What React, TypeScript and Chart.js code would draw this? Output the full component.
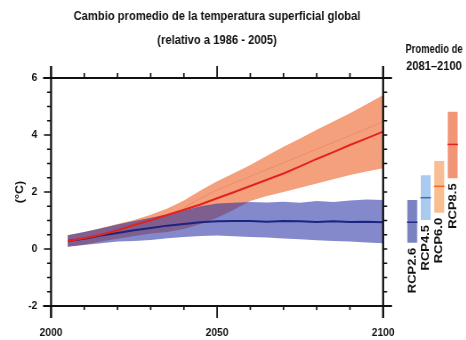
import React, { useEffect, useRef } from "react";
import { Chart, registerables } from "chart.js";

Chart.register(...registerables);

// ---- data ----
const years = [2005, 2010, 2015, 2020, 2025, 2030, 2035, 2040, 2045, 2050, 2055, 2060, 2065, 2070, 2075, 2080, 2085, 2090, 2095, 2100];
const rcp85Mean = [0.28, 0.38, 0.5, 0.66, 0.84, 1.01, 1.19, 1.38, 1.56, 1.78, 1.99, 2.21, 2.43, 2.65, 2.9, 3.16, 3.4, 3.65, 3.88, 4.12];
const rcp85High = [0.48, 0.6, 0.74, 0.88, 1.02, 1.2, 1.42, 1.7, 2.05, 2.38, 2.66, 2.95, 3.27, 3.59, 3.88, 4.18, 4.47, 4.76, 5.08, 5.4];
const rcp85Low = [0.08, 0.16, 0.26, 0.36, 0.46, 0.54, 0.6, 0.7, 0.88, 1.1, 1.38, 1.68, 1.86, 2.0, 2.15, 2.3, 2.45, 2.6, 2.72, 2.83];
const rcp85Faint = [null, null, null, null, null, null, null, 1.45, 1.78, 2.07, 2.31, 2.55, 2.79, 3.03, 3.27, 3.5, 3.74, 3.98, 4.22, 4.47];
const rcp26Mean = [0.28, 0.36, 0.47, 0.56, 0.66, 0.74, 0.82, 0.88, 0.94, 0.97, 0.98, 0.98, 0.96, 0.98, 0.97, 0.95, 0.97, 0.95, 0.96, 0.94];
const rcp26High = [0.48, 0.6, 0.72, 0.86, 0.98, 1.1, 1.22, 1.35, 1.5, 1.6, 1.62, 1.65, 1.63, 1.66, 1.62, 1.68, 1.65, 1.7, 1.74, 1.72];
const rcp26Low = [0.08, 0.14, 0.2, 0.26, 0.28, 0.32, 0.38, 0.42, 0.46, 0.47, 0.45, 0.42, 0.4, 0.37, 0.34, 0.31, 0.28, 0.26, 0.23, 0.2];

const scenarios = ["RCP2.6", "RCP4.5", "RCP6.0", "RCP8.5"];
const scenarioLow = [0.22, 1.02, 1.27, 2.48];
const scenarioHigh = [1.72, 2.59, 3.09, 4.82];
const scenarioMedian = [0.94, 1.8, 2.2, 3.67];
const scenarioColors = ["#7b82c2", "#abcaf0", "#f9bd92", "#f29476"];
const medianColors = ["#1d2a82", "#3a6cb4", "#f06a1a", "#e3241b"];

const titleLines = ["Cambio promedio de la temperatura superficial global", "(relativo a 1986 - 2005)"];
const sideTitle = ["Promedio de", "2081\u20132100"];
const yTitle = "(°C)";

const SANS = "'Liberation Sans', Arial, sans-serif";
// horizontal condensing of the whole figure (as in the original artwork)
const K = 0.889;
const MAIN_W = 488;
const SIDE_W = 86;

const pts = (vals: (number | null)[]) => years.map((x, i) => ({ x, y: vals[i] }));

const framePlugin = {
  id: "frame",
  afterDraw(chart: any) {
    const { ctx, chartArea } = chart;
    const { left: L, right: R, top: T, bottom: B } = chartArea;
    const xs = chart.scales.x;
    const ys = chart.scales.y;
    ctx.save();
    ctx.strokeStyle = "#111";
    ctx.lineWidth = 2 / K;
    ctx.beginPath();
    ctx.moveTo(L, T - 12); ctx.lineTo(L, B + 12);
    ctx.moveTo(R, T - 12); ctx.lineTo(R, B + 12);
    ctx.stroke();
    ctx.lineWidth = 2;
    ctx.beginPath();
    ctx.moveTo(L - 9, T); ctx.lineTo(R + 10, T);
    ctx.moveTo(L - 9, B); ctx.lineTo(R + 10, B);
    ctx.stroke();
    ctx.lineWidth = 1.5;
    ctx.beginPath();
    ys.ticks.forEach((t: any) => {
      const p = ys.getPixelForValue(t.value);
      const len = t.value % 2 === 0 ? 8 : 4.5;
      ctx.moveTo(L - len, p); ctx.lineTo(L, p);
      ctx.moveTo(R, p); ctx.lineTo(R + 4.5, p);
    });
    ctx.stroke();
    ctx.lineWidth = 1.5 / K;
    ctx.beginPath();
    xs.ticks.forEach((t: any) => {
      const p = xs.getPixelForValue(t.value);
      const major = t.value % 50 === 0;
      ctx.moveTo(p, T - (major ? 12 : 5)); ctx.lineTo(p, T);
      ctx.moveTo(p, B); ctx.lineTo(p, B + (major ? 12 : 4));
    });
    ctx.stroke();
    ctx.restore();
  },
};

const barLabelPlugin = {
  id: "barLabels",
  afterDatasetsDraw(chart: any) {
    const { ctx } = chart;
    const meta = chart.getDatasetMeta(1);
    ctx.save();
    ctx.fillStyle = "#111";
    ctx.font = `bold 13px ${SANS}`;
    ctx.textAlign = "right";
    ctx.textBaseline = "middle";
    meta.data.forEach((el: any, i: number) => {
      const yb = Math.max(el.y, el.base) + 5;
      ctx.save();
      ctx.translate(el.x, yb);
      ctx.rotate(-Math.PI / 2);
      ctx.fillText(scenarios[i], 0, 0);
      ctx.restore();
    });
    ctx.restore();
  },
};

export default function App() {
  const mainRef = useRef<HTMLCanvasElement>(null);
  const sideRef = useRef<HTMLCanvasElement>(null);

  useEffect(() => {
    const main = new Chart(mainRef.current!, {
      type: "line",
      data: {
        datasets: [
          { data: pts(rcp85Mean), borderColor: "#e3231b", borderWidth: 2, pointRadius: 0, fill: false },
          { data: pts(rcp26Mean), borderColor: "#1b2580", borderWidth: 2, pointRadius: 0, fill: false },
          { data: pts(rcp85Faint), borderColor: "rgba(222,120,95,0.45)", borderWidth: 1, pointRadius: 0, fill: false },
          { data: pts(rcp26High), borderColor: "rgba(0,0,0,0)", borderWidth: 0, pointRadius: 0, fill: "+1", backgroundColor: "rgba(30,40,160,0.55)" },
          { data: pts(rcp26Low), borderColor: "rgba(0,0,0,0)", borderWidth: 0, pointRadius: 0, fill: false },
          { data: pts(rcp85High), borderColor: "rgba(0,0,0,0)", borderWidth: 0, pointRadius: 0, fill: "+1", backgroundColor: "#f5a07c" },
          { data: pts(rcp85Low), borderColor: "rgba(0,0,0,0)", borderWidth: 0, pointRadius: 0, fill: false },
        ],
      },
      options: {
        responsive: false,
        animation: false,
        devicePixelRatio: 1,
        layout: { padding: 0 },
        plugins: {
          legend: { display: false },
          tooltip: { enabled: false },
          title: {
            display: true,
            text: titleLines,
            color: "#111",
            font: { family: SANS, size: 12.6, weight: "bold", lineHeight: 24 / 12.6 },
            padding: { top: 4.7, bottom: 0.3 },
          },
        },
        scales: {
          x: {
            type: "linear",
            position: "bottom",
            min: 2000,
            max: 2100,
            grid: { display: false, drawTicks: false },
            border: { display: false },
            ticks: {
              stepSize: 10,
              autoSkip: false,
              maxRotation: 0,
              padding: 20,
              color: "#111",
              font: { family: SANS, size: 11.5, weight: "bold" },
              callback: (v: any) => (v % 50 === 0 ? String(v) : ""),
            },
            afterFit: (s: any) => { s.height = 34; },
          },
          x2: {
            type: "linear",
            position: "top",
            min: 2000,
            max: 2100,
            grid: { display: false, drawTicks: false },
            border: { display: false },
            ticks: { display: false },
            afterFit: (s: any) => { s.height = 25; },
          },
          y: {
            position: "left",
            min: -2,
            max: 6,
            grid: { display: false, drawTicks: false },
            border: { display: false },
            ticks: {
              stepSize: 0.5,
              autoSkip: false,
              padding: 15.5,
              color: "#111",
              font: { family: SANS, size: 11.5, weight: "bold" },
              callback: (v: any) => (v % 2 === 0 ? String(v) : ""),
            },
            title: {
              display: true,
              text: yTitle,
              color: "#111",
              font: { family: SANS, size: 12.5, weight: "bold" },
              padding: { top: 15, bottom: 0 },
            },
            afterFit: (s: any) => { s.width = 57.4; },
          },
          y2: {
            position: "right",
            min: -2,
            max: 6,
            grid: { display: false, drawTicks: false },
            border: { display: false },
            ticks: { display: false },
            afterFit: (s: any) => { s.width = 57.2; },
          },
        },
      },
      plugins: [framePlugin],
    } as any);

    const side = new Chart(sideRef.current!, {
      type: "bar",
      data: {
        labels: scenarios,
        datasets: [
          {
            type: "line",
            data: scenarioMedian,
            showLine: false,
            pointStyle: "line",
            pointRadius: 5.9,
            pointBorderWidth: 1.5,
            pointBorderColor: medianColors,
            pointBackgroundColor: medianColors,
          },
          {
            type: "bar",
            data: scenarios.map((_, i) => [scenarioLow[i], scenarioHigh[i]]),
            backgroundColor: scenarioColors,
            borderWidth: 0,
            barPercentage: 0.73,
            categoryPercentage: 1,
          },
        ],
      },
      options: {
        responsive: false,
        animation: false,
        devicePixelRatio: 1,
        layout: { padding: { left: 17.5, right: 3.9, top: 0, bottom: 34 } },
        plugins: {
          legend: { display: false },
          tooltip: { enabled: false },
          title: {
            display: true,
            text: sideTitle,
            color: "#111",
            font: { family: SANS, size: 12.6, weight: "bold", lineHeight: 17.5 / 12.6 },
            padding: { top: 40.75, bottom: 2.25 },
          },
        },
        scales: {
          x: { display: false, offset: true },
          y: { display: false, min: -2, max: 6 },
        },
      },
      plugins: [barLabelPlugin],
    } as any);

    return () => {
      main.destroy();
      side.destroy();
    };
  }, []);

  return (
    <div style={{ position: "fixed", left: 0, top: 0, width: 466, height: 340, background: "#fff" }}>
      <canvas
        ref={mainRef}
        width={MAIN_W}
        height={340}
        style={{ position: "absolute", left: 0, top: 0, width: MAIN_W * K, height: 340 }}
      />
      <canvas
        ref={sideRef}
        width={SIDE_W}
        height={340}
        style={{ position: "absolute", left: 390, top: 0, width: SIDE_W * K, height: 340 }}
      />
    </div>
  );
}
